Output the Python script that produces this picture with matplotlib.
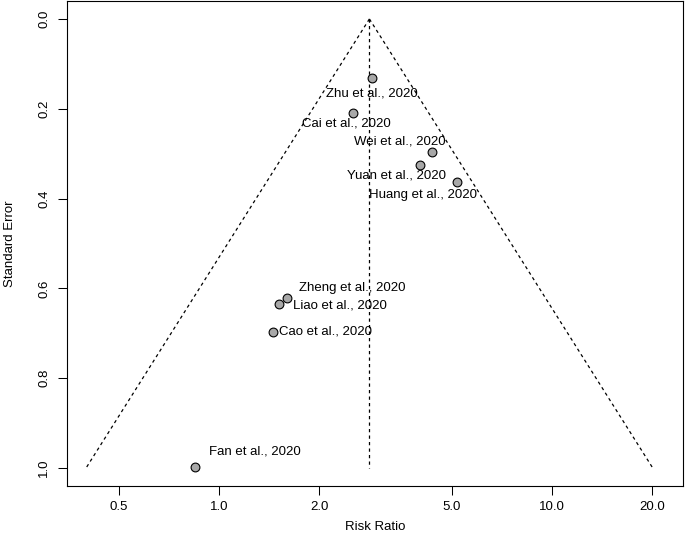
import numpy as np
import matplotlib
matplotlib.use("Agg")
import matplotlib.pyplot as plt
from matplotlib.ticker import FixedLocator, NullLocator

plt.rcParams['font.family'] = ['Liberation Sans', 'DejaVu Sans']

# ---- data ----
studies = ["Zhu et al., 2020", "Cai et al., 2020", "Wei et al., 2020", "Yuan et al., 2020",
           "Huang et al., 2020", "Zheng et al., 2020", "Liao et al., 2020", "Cao et al., 2020",
           "Fan et al., 2020"]
risk_ratio = [2.87, 2.53, 4.36, 4.01, 5.19, 1.60, 1.51, 1.45, 0.846]
std_error = [0.131, 0.21, 0.297, 0.326, 0.363, 0.621, 0.634, 0.696, 0.997]
pooled_rr = 2.826
se_max = 1.0
x_ticks = [0.5, 1.0, 2.0, 5.0, 10.0, 20.0]
x_tick_labels = ["0.5", "1.0", "2.0", "5.0", "10.0", "20.0"]
y_ticks = [0.0, 0.2, 0.4, 0.6, 0.8, 1.0]
y_tick_labels = ["0.0", "0.2", "0.4", "0.6", "0.8", "1.0"]

# label placement (offset in pixels, alignment)
label_offsets = [(0, -16, 'center'), (-7, -10, 'center'), (-32, 11, 'center'),
                 (-23, -10, 'center'), (-34, -13, 'center'), (12, 10, 'left'),
                 (14, -1.5, 'left'), (6, 0, 'left'), (14, 15, 'left')]

W, H = 686, 536
fig = plt.figure(figsize=(W / 100, H / 100), dpi=100)
ax_l, ax_r, ax_t, ax_b = 66.7, 683, 1.0, 486.0
ax = fig.add_axes([ax_l / W, 1 - ax_b / H, (ax_r - ax_l) / W, (ax_b - ax_t) / H])

ax.set_xscale('log')
ax.set_xlim(np.exp(-1.055), np.exp(3.208))
ax.set_ylim(1.04, -0.04)

# funnel
z = 1.96
se_line = np.array([0.0, se_max])
dash = (0, (2.6, 2.6))
ax.plot(pooled_rr * np.exp(-z * se_line), se_line, color='black', lw=0.9, linestyle=dash)
ax.plot(pooled_rr * np.exp(z * se_line), se_line, color='black', lw=0.9, linestyle=dash)
ax.plot([pooled_rr, pooled_rr], se_line, color='black', lw=0.9, linestyle=dash)

ax.scatter(risk_ratio, std_error, s=40, facecolor='#a8a8a8', edgecolor='black',
           linewidth=0.8, zorder=3)

for name, rr, se, (dx, dy, ha) in zip(studies, risk_ratio, std_error, label_offsets):
    ax.annotate(name, (rr, se), xytext=(dx, dy), textcoords='offset pixels',
                ha=ha, va='center', fontsize=9.5, color='black')

ax.xaxis.set_major_locator(FixedLocator(x_ticks))
ax.xaxis.set_minor_locator(NullLocator())
ax.set_xticklabels(x_tick_labels)
ax.set_yticks(y_ticks)
ax.set_yticklabels(y_tick_labels, rotation=90, va='center')

ax.tick_params(direction='out', length=6.8, width=0.75, labelsize=9.5, colors='black')
ax.tick_params(axis='x', pad=4)
ax.tick_params(axis='y', pad=5)
for sp in ax.spines.values():
    sp.set_linewidth(0.8)

fig.text(375 / W, 1 - 527 / H, "Risk Ratio", ha='center', va='center', fontsize=9.5)
fig.text(10 / W, 1 - ((ax_t + ax_b) / 2) / H, "Standard Error", ha='center', va='center',
         rotation=90, fontsize=9.5)

fig.savefig("out.png", dpi=100)
